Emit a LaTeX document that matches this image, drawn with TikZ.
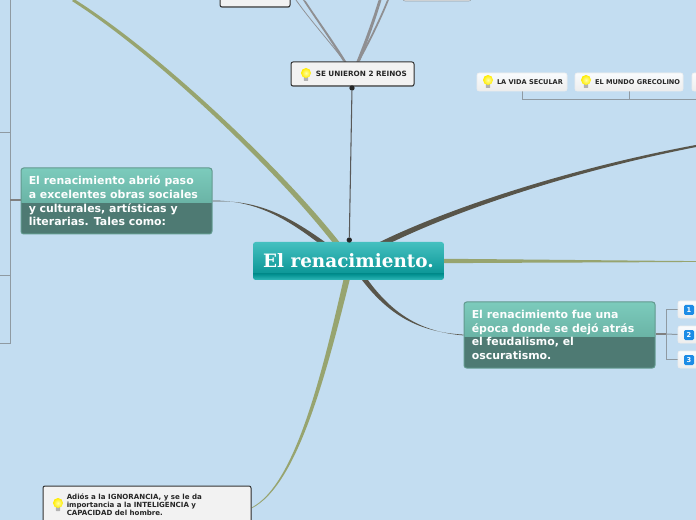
\documentclass[tikz,border=0pt]{standalone}
\usepackage{fontspec}
\setmainfont{DejaVu Sans}
\newfontfamily\titlefont{DejaVu Serif}
\usetikzlibrary{calc,backgrounds,shadows}
\definecolor{sky}{HTML}{C3DDF1}
\definecolor{olive}{HTML}{97A46F}
\definecolor{umber}{HTML}{58554A}
\definecolor{linegray}{HTML}{8F9AA2}
\definecolor{fan}{HTML}{8F8F92}
\definecolor{iconblue}{HTML}{1C8CE6}
\newcommand\taper[7]{\fill[#1] ($(#2)+(#6)$) .. controls ($(#3)+0.67*(#6)+0.33*(#7)$) and ($(#4)+0.33*(#6)+0.67*(#7)$) .. ($(#5)+(#7)$) -- ($(#5)-(#7)$) .. controls ($(#4)-0.33*(#6)-0.67*(#7)$) and ($(#3)-0.67*(#6)-0.33*(#7)$) .. ($(#2)-(#6)$) -- cycle;}
\newcommand\bulb[1]{\begin{scope}[shift={(#1)}]
\fill[rounded corners=0.5pt,gray!60] (-2.2,3) rectangle (2.2,8);
\shade[inner color=yellow!35!white,outer color=yellow!85!orange] (0,0) circle[radius=5];
\end{scope}}
\tikzset{
  sz/.style 2 args={minimum width=#1*0.75pt,minimum height=#2*0.75pt,inner sep=0pt},
  softshadow/.style={drop shadow={shadow xshift=0.2pt,shadow yshift=-0.6pt,opacity=0.45,fill=black!70}},
  darkbox/.style={draw=black!80,line width=0.75pt,rounded corners=1.5pt,fill=black!5,softshadow},
  lightbox/.style={draw=white!85!gray,line width=0.4pt,rounded corners=1.5pt,top color=white!90!sky,bottom color=black!7},
  label/.style={anchor=west,inner sep=0pt,font=\fontsize{#1}{6.2}\selectfont\bfseries,text=black!85,align=left},
  topic/.style={draw=#1,line width=0.75pt,rounded corners=2pt,
    path picture={
      \shade[sharp corners,top color=topA,bottom color=topB] (path picture bounding box.north west) rectangle ($(path picture bounding box.north east)!0.53!(path picture bounding box.south east)$);
      \fill[sharp corners,topC] ($(path picture bounding box.north west)!0.53!(path picture bounding box.south west)$) rectangle (path picture bounding box.south east);}},
  topictext/.style={anchor=west,inner sep=0pt,font=\fontsize{8.2}{10.15}\selectfont\bfseries,text=white!96!sky,align=left},
  connector/.style={draw=linegray,line width=0.75pt},
  numicon/.style={fill=iconblue,rounded corners=1pt,minimum size=7.5pt,inner sep=0pt,text=white,font=\fontsize{5}{5}\selectfont\bfseries},
  dot/.style={circle,fill=black!85,minimum size=4pt,inner sep=0pt},
}
\definecolor{topA}{HTML}{7CCBBC}
\definecolor{topB}{HTML}{5A9F92}
\definecolor{topC}{HTML}{4E7A73}
\definecolor{cenA}{HTML}{45C0C0}
\definecolor{cenB}{HTML}{008E8E}
\definecolor{cenC}{HTML}{30B8B8}
\begin{document}
\begin{tikzpicture}[x=0.75pt,y=-0.75pt]
\useasboundingbox (0,0) rectangle (696,520);
% central topic
\node[sz={191}{38},rounded corners=2pt,path picture={
  \shade[sharp corners,top color=cenA,bottom color=cenB] (path picture bounding box.north west) rectangle ($(path picture bounding box.north east)!0.84!(path picture bounding box.south east)$);
  \shade[sharp corners,top color=cenB,bottom color=cenC] ($(path picture bounding box.north west)!0.84!(path picture bounding box.south west)$) rectangle (path picture bounding box.south east);},
  font=\titlefont\fontsize{13.8}{16}\selectfont\bfseries,text=white] (central) at (348.5,261) {El renacimiento.};
% main topics
\node[topic=topB!80!gray,sz={191}{66}] (abrio) at (116.5,201) {};
\node[topictext] at ($(abrio.west)+(8,0)$) {El renacimiento abrió paso\\a excelentes obras sociales\\y culturales, artísticas y\\literarias. Tales como:};
\node[topic=topB!80!gray,sz={191}{66}] (epoca) at (559.5,335) {};
\node[topictext] at ($(epoca.west)+(8,0)$) {El renacimiento fue una\\época donde se dejó atrás\\el feudalismo, el\\oscuratismo.};
% boxes
\node[darkbox,sz={123}{24}] (reinos) at (352.5,74) {};
\node[label=5.45] at ($(reinos.west)+(25,0)$) {SE UNIERON 2 REINOS};
\node[darkbox,sz={70}{22}] (topleft) at (255,-4) {};
\node[lightbox,draw=gray!70!sky,sz={68}{12}] (topright) at (437,-5) {};
\node[lightbox,sz={90}{18}] (secular) at (522,82) {};
\node[label=4.95] at ($(secular.west)+(20,0)$) {LA VIDA SECULAR};
\node[lightbox,sz={108}{18}] (grecolino) at (629,82) {};
\node[label=4.95] at ($(grecolino.west)+(20,0)$) {EL MUNDO GRECOLINO};
\node[lightbox,sz={30}{18}] (third) at (707,82) {};
\node[darkbox,sz={208}{44}] (adios) at (147,508) {};
\node[label=5.3] at ($(adios.west)+(24,-3.5)$) {Adiós a la IGNORANCIA, y se le da\\importancia a la INTELIGENCIA y\\CAPACIDAD del hombre.};
\node[lightbox,sz={30}{17}] (one) at (693,309.5) {};
\node[lightbox,sz={30}{17}] (two) at (693,334.5) {};
\node[lightbox,sz={30}{17}] (three) at (693,359.5) {};
\node[numicon] at (689,310) {1};
\node[numicon] at (689,335) {2};
\node[numicon] at (689,360) {3};
\bulb{306,73}
\bulb{488,80}
\bulb{586,80}
\bulb{58,503}
% hub coordinates
\coordinate (hubOliveL) at (342,250);
\coordinate (hubOliveD) at (347,278);
\coordinate (hubOliveR) at (444,261);
\coordinate (hubDarkR) at (380,245);
\coordinate (hubDarkL) at (325,245);
\coordinate (hubDarkD) at (362,276);
\coordinate (offOliveL) at (73,0);
\coordinate (offDarkR) at (696,146);
\coordinate (offOliveR) at (696,261.5);
\coordinate (leftA) at (0,133);
\coordinate (leftB) at (0,276);
\coordinate (leftC) at (0,343);
\coordinate (barTop) at (10,0);
\coordinate (barBot) at (10,343);
\coordinate (barMid) at (10,200);
\coordinate (railEnd) at (696,100);
\coordinate (fanA) at (296,0);
\coordinate (fanB) at (304,0);
\coordinate (fanC) at (380,0);
\coordinate (fanD) at (388,0);
\coordinate (fanLow) at (345,62);
\coordinate (fanLowR) at (358,62);
\begin{scope}[on background layer]
\fill[sky] (0,0) rectangle (696,520);
% tapered branches
\taper{olive}{hubOliveL}{285,175}{160,55}{offOliveL}{2.2,-1.8}{0.9,-1.1}
\taper{olive}{hubOliveD}{325,370}{297,485}{adios.east}{3.0,0.6}{0,0.4}
\taper{olive}{hubOliveR}{520,261}{620,261.5}{offOliveR}{0,2.2}{0,0.4}
\taper{umber}{hubDarkR}{450,210}{570,170}{offDarkR}{1.1,2.6}{0.3,1}
\taper{umber}{hubDarkL}{285,215}{255,200}{abrio.east}{1.3,-2}{0,0.4}
\taper{umber}{hubDarkD}{390,315}{420,332}{epoca.west}{2.1,-1.3}{0,0.4}
% fan above the reinos box
\taper{fan}{fanLow}{330,42}{310,20}{fanA}{1.3,0.9}{0.9,0.6}
\taper{fan}{fanLow}{333,42}{317,20}{fanB}{2.2,1.2}{1.7,1}
\taper{fan}{fanLowR}{366,42}{374,20}{fanC}{2,-0.8}{1.6,-0.5}
\taper{fan}{fanLowR}{369,42}{380,20}{fanD}{1.4,-0.6}{1.1,-0.4}
% bracket connectors
\draw[connector] (barTop) -- (barBot) -- (leftC);
\draw[connector] (leftA) -- (leftA -| barTop);
\draw[connector] (leftB) -- (leftB -| barTop);
\draw[connector,line width=1.2pt,draw=gray] (barMid) -- (abrio.west |- barMid);
\draw[connector] (secular.south) |- (railEnd);
\draw[connector] (grecolino.south) -- (grecolino.south |- railEnd);
\draw[connector] (third.south) -- (third.south |- railEnd);
\coordinate (brk) at (666,334);
\draw[connector,line width=1.1pt,draw=gray] (epoca.east |- brk) -- (brk);
\draw[connector] (one.west) -| (brk);
\draw[connector] (three.west) -| (brk);
\draw[connector] (two.west) -- (brk);
\end{scope}
% link between central and reinos
\node[dot] (d1) at (352,88) {};
\node[dot] (d2) at (349.3,240) {};
\draw[draw=black!65,line width=0.8pt] (d1) -- (d2);
\end{tikzpicture}
\end{document}
